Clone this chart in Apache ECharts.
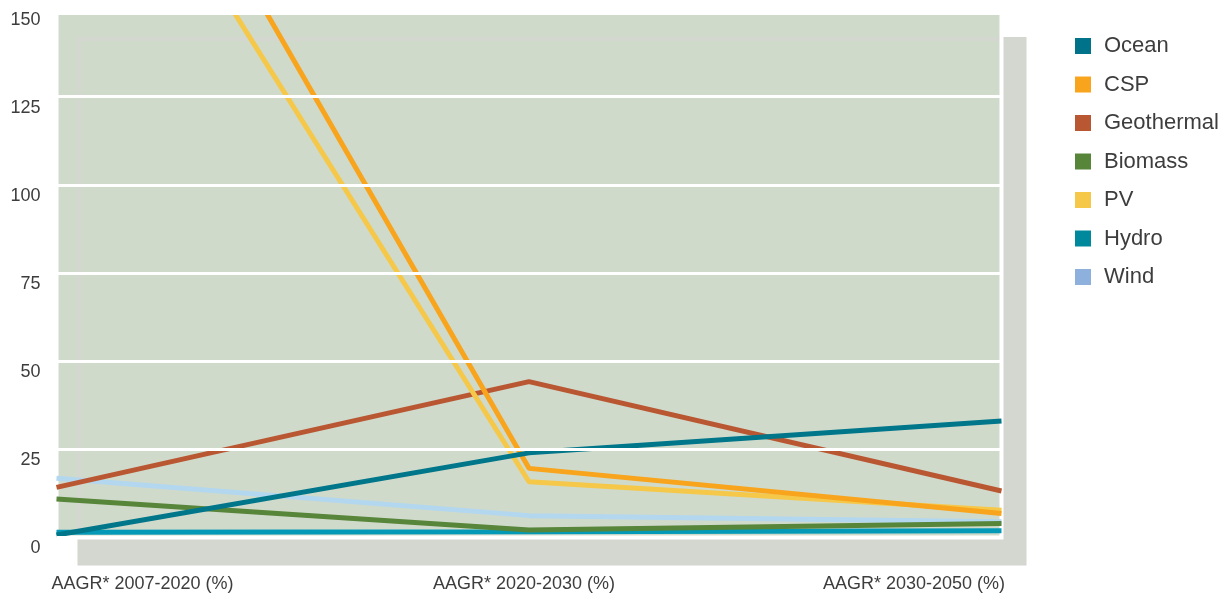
<!DOCTYPE html>
<html>
<head>
<meta charset="utf-8">
<script src="https://cdn.jsdelivr.net/npm/echarts@6/dist/echarts.min.js"></script>
<style>
html,body{margin:0;padding:0;background:#fff;}
#chart{width:1222px;height:599px;}
</style>
</head>
<body>
<div id="chart"></div>
<script>
var categories = ['AAGR* 2007-2020 (%)', 'AAGR* 2020-2030 (%)', 'AAGR* 2030-2050 (%)'];
var legendOrder = ['Ocean', 'CSP', 'Geothermal', 'Biomass', 'PV', 'Hydro', 'Wind'];
var ocean = [0.7, 24, 33];
var csp = [252, 19.6, 6.8];
var geothermal = [14.2, 44.2, 13.2];
var biomass = [10.9, 2.1, 4.0];
var pv = [229, 15.8, 7.7];
var hydro = [1.5, 1.6, 1.9];
var wind = [16.8, 6.2, 4.5];
var yTicks = [0, 25, 50, 75, 100, 125, 150];

var lineColors = {Ocean:'#00768b', CSP:'#f8a41c', Geothermal:'#b95733', Biomass:'#578539', PV:'#f5c84a', Hydro:'#049ab7', Wind:'#b2d7ef'};
var iconColors = {Ocean:'#00738a', CSP:'#f8a41c', Geothermal:'#b95733', Biomass:'#578539', PV:'#f5c84a', Hydro:'#00899d', Wind:'#8db1dc'};
var seriesData = {Ocean:ocean, CSP:csp, Geothermal:geothermal, Biomass:biomass, PV:pv, Hydro:hydro, Wind:wind};
var drawOrder = ['Wind', 'Hydro', 'Biomass', 'Geothermal', 'PV', 'CSP', 'Ocean'];

var font = '"Liberation Sans", Arial, Helvetica, sans-serif';
var textColor = '#3d3d3d';
var topValue = 148.7;

var chart = echarts.init(document.getElementById('chart'), null, {renderer:'canvas'});
chart.setOption({
  animation: false,
  backgroundColor: '#ffffff',
  textStyle: {fontFamily: font},
  grid: {
    left: 56.5, right: 220.5, top: 13, bottom: 61.5,
    show: true,
    backgroundColor: '#d0dacb',
    borderColor: '#ffffff',
    borderWidth: 4,
    shadowColor: '#d4d6d0',
    shadowBlur: 0,
    shadowOffsetX: 23,
    shadowOffsetY: 26
  },
  graphic: [{
    type: 'rect', z: 100, silent: true,
    shape: {x: 50, y: 0, width: 960, height: 13},
    style: {fill: '#ffffff'}
  }],
  legend: {
    orient: 'vertical',
    left: 1070, top: 30,
    icon: 'rect',
    itemWidth: 16, itemHeight: 16,
    itemGap: 16.5,
    selectedMode: false,
    textStyle: {fontFamily: font, fontSize: 22, color: textColor, lineHeight: 22, padding: [0, 0, 0, 8]},
    data: legendOrder.map(function (n) { return {name: n, itemStyle: {color: iconColors[n]}}; })
  },
  xAxis: {
    type: 'category',
    data: categories,
    boundaryGap: false,
    axisLine: {show: false},
    axisTick: {show: false},
    splitLine: {show: false},
    axisLabel: {
      fontFamily: font, fontSize: 18, color: textColor, margin: 38,
      interval: 0,
      align: 'center',
      formatter: function (v, i) { return '{c' + i + '|' + v + '}'; },
      rich: {
        c0: {fontFamily: font, fontSize: 18, color: textColor, padding: [0, 0, 0, 172]},
        c1: {fontFamily: font, fontSize: 18, color: textColor, padding: [0, 10, 0, 0]},
        c2: {fontFamily: font, fontSize: 18, color: textColor, padding: [0, 175, 0, 0]}
      }
    }
  },
  yAxis: {
    type: 'value',
    min: 0, max: topValue, interval: 25,
    z: 5,
    axisLine: {show: false},
    axisTick: {show: false},
    splitLine: {show: true, lineStyle: {color: '#ffffff', width: 3}},
    axisLabel: {
      fontFamily: font, fontSize: 18, color: textColor, margin: 16,
      verticalAlign: 'middle',
      formatter: function (v) {
        if (v > 140) return '{m|' + yTicks[yTicks.length - 1] + '}';
        return '{n|' + v + '}';
      },
      rich: {
        n: {fontFamily: font, fontSize: 18, color: textColor, padding: [22, 0, 0, 0]},
        m: {fontFamily: font, fontSize: 18, color: textColor, padding: [14, 0, 0, 0]}
      }
    }
  },
  series: drawOrder.map(function (n) {
    return {
      name: n,
      type: 'line',
      data: seriesData[n],
      symbol: 'none',
      showSymbol: false,
      lineStyle: {color: lineColors[n], width: 5},
      itemStyle: {color: lineColors[n]},
      z: 2
    };
  })
});
</script>
</body>
</html>
